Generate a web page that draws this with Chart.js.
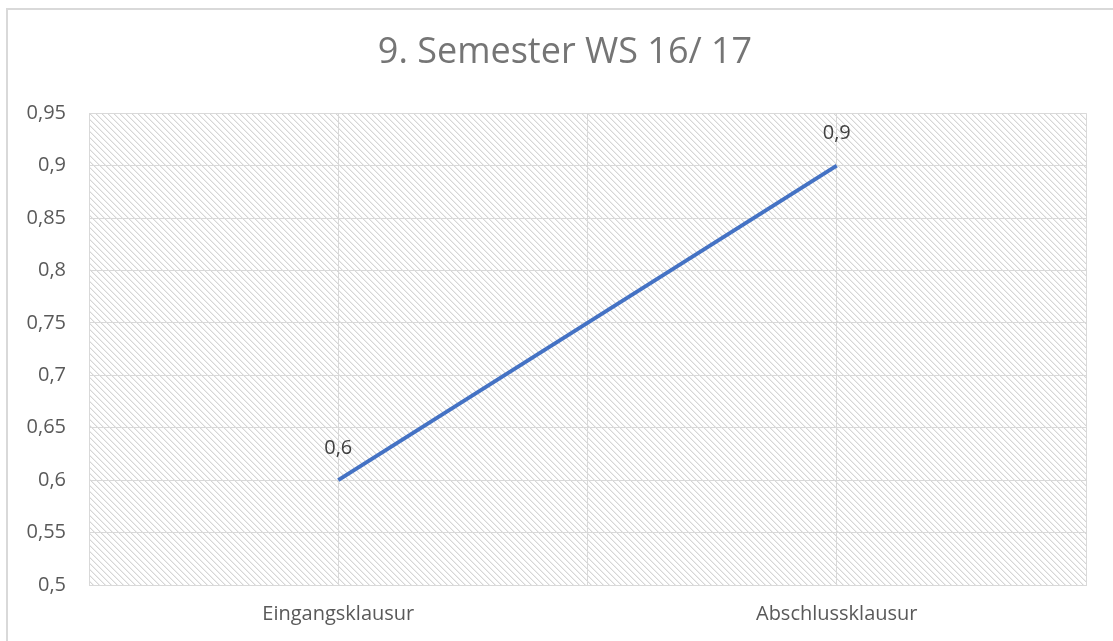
<!DOCTYPE html>
<html>
<head>
<meta charset="utf-8">
<script src="https://cdn.jsdelivr.net/npm/chart.js@4.4.1/dist/chart.umd.min.js"></script>
<style>
html,body{margin:0;padding:0;background:#fff;}
#wrap{width:1113px;height:641px;position:relative;}
</style>
</head>
<body>
<div id="wrap"><canvas id="c" width="1113" height="641"></canvas></div>
<script>
const chartTitle = "9. Semester WS 16/ 17";
const categories = ["Eingangsklausur", "Abschlussklausur"];
const values = [0.6, 0.9];
const yMin = 0.5, yMax = 0.95, yStep = 0.05;

const fontFamily = "'Open Sans', 'Noto Sans', sans-serif";
const fmt = v => String(Math.round(v * 100) / 100).replace('.', ',');

function makePattern(ctx) {
  const s = 6;
  const c = document.createElement('canvas');
  c.width = s; c.height = s;
  const p = c.getContext('2d');
  p.fillStyle = '#ffffff';
  p.fillRect(0, 0, s, s);
  p.fillStyle = '#d6d6d6';
  for (let i = 0; i < s; i++) p.fillRect(i, i, 1, 1);
  p.fillStyle = '#eeeeee';
  for (let i = 0; i < s; i++) p.fillRect((i + 1) % s, i, 1, 1);
  return ctx.createPattern(c, 'repeat');
}

const bgPlugin = {
  id: 'bg',
  beforeDraw(chart) {
    const {ctx, chartArea: a} = chart;
    ctx.save();
    ctx.fillStyle = makePattern(ctx);
    ctx.fillRect(a.left, a.top, a.right - a.left, a.bottom - a.top);
    ctx.strokeStyle = '#d9d9d9';
    ctx.lineWidth = 2;
    ctx.beginPath();
    ctx.moveTo(7, 641);
    ctx.lineTo(7, 9);
    ctx.lineTo(1113, 9);
    ctx.stroke();
    ctx.restore();
  }
};

const labelPlugin = {
  id: 'dlabels',
  afterDatasetsDraw(chart) {
    const {ctx} = chart;
    const meta = chart.getDatasetMeta(0);
    ctx.save();
    ctx.font = "20px " + fontFamily;
    ctx.fillStyle = '#404040';
    ctx.textAlign = 'center';
    ctx.textBaseline = 'middle';
    meta.data.forEach((pt, i) => {
      ctx.fillText(fmt(values[i]), pt.x, pt.y - 32);
    });
    ctx.restore();
  }
};

new Chart(document.getElementById('c'), {
  type: 'line',
  data: {
    datasets: [{
      data: values.map((v, i) => ({x: i, y: v})),
      borderColor: '#4472C4',
      borderWidth: 4,
      pointRadius: 0,
      fill: false,
      tension: 0
    }]
  },
  options: {
    responsive: false,
    animation: false,
    layout: {padding: {left: 17, right: 0, top: 0, bottom: 0}},
    plugins: {
      legend: {display: false},
      tooltip: {enabled: false},
      title: {
        display: true,
        text: chartTitle,
        color: '#757575',
        font: {family: fontFamily, size: 36, weight: 'normal'},
        padding: {top: 31, bottom: 39}
      }
    },
    scales: {
      x: {
        type: 'linear',
        min: -0.5, max: 1.5,
        afterFit(s) { s.height = 56; },
        afterBuildTicks(s) { s.ticks = [-0.5, 0, 0.5, 1, 1.5].map(v => ({value: v})); },
        ticks: {
          autoSkip: false,
          maxRotation: 0,
          padding: 17,
          color: '#595959',
          font: {family: fontFamily, size: 20},
          callback: v => Number.isInteger(v) ? categories[v] : ''
        },
        grid: {color: '#d9d9d9', lineWidth: 1, drawTicks: false},
        border: {color: '#d9d9d9', width: 1}
      },
      y: {
        min: yMin, max: yMax,
        afterFit(s) { s.width = 72; },
        ticks: {
          stepSize: yStep,
          padding: 23,
          color: '#595959',
          font: {family: fontFamily, size: 20},
          callback: v => fmt(v)
        },
        grid: {color: '#d9d9d9', lineWidth: 1, drawTicks: false},
        border: {color: '#d9d9d9', width: 1}
      },
      yRight: {
        position: 'right',
        min: yMin, max: yMax,
        afterFit(s) { s.width = 27; },
        ticks: {display: false},
        grid: {display: false, drawOnChartArea: false},
        border: {display: false}
      }
    }
  },
  plugins: [bgPlugin, labelPlugin]
});
</script>
</body>
</html>
